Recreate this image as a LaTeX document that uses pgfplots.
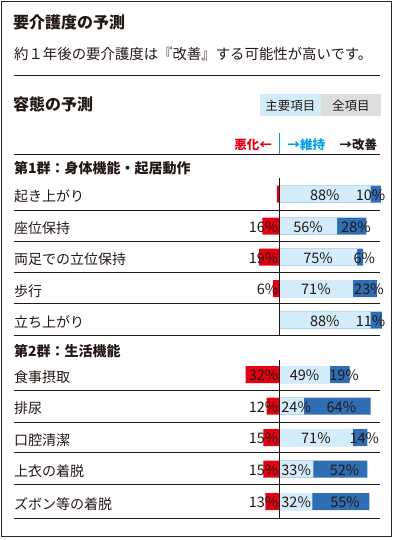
\documentclass[border=0pt]{standalone}
\usepackage{fontspec}
\setmainfont{Noto Sans CJK JP}
\usepackage{pgfplots}
\usepackage{pgfplotstable}
\pgfplotsset{compat=1.18}
\definecolor{worsec}{HTML}{E60012}
\definecolor{keepc}{HTML}{D3ECFA}
\definecolor{improvec}{HTML}{2F6DB5}
\definecolor{txt}{HTML}{231815}
\definecolor{cyanhdr}{HTML}{00A0E9}
\definecolor{btngray}{HTML}{DCDDDD}
\pgfplotstableread{
y     worse keep improve
194   2  88 10
226   16 56 28
257   19 75 6
288.5 6  71 23
320   0  88 11
374.5 32 49 19
406   12 24 64
437.5 15 71 14
469   15 33 52
501.5 13 32 55
}\data
\newcommand\fs[1]{\fontsize{#1bp}{#1bp}\selectfont}
\begin{document}
\begin{tikzpicture}[x=1bp,y=-1bp]
\useasboundingbox (0,0) rectangle (394,540);
\begin{axis}[
  at={(0,0)}, anchor=north west,
  scale only axis, width=394bp, height=540bp,
  xmin=-268.27, xmax=110.58, ymin=0, ymax=540, y dir=reverse,
  axis line style={draw=none}, tick style={draw=none},
  xtick=\empty,
  /pgf/number format/assume math mode=true,
  ytick={194,226,257,288.5,320,374.5,406,437.5,469,501.5},
  yticklabels={起き上がり,座位保持,両足での立位保持,歩行,立ち上がり,食事摂取,排尿,口腔清潔,上衣の着脱,ズボン等の着脱},
  yticklabel style={anchor=west, inner sep=0pt, xshift=14bp, yshift=-2.5bp, font=\fs{14}, text=txt},
  clip=false,
]
\addplot[xbar, bar width=17, bar shift=0pt, fill=worsec, draw=none] table[x expr=-\thisrow{worse}, y=y]{\data};
\addplot[xbar, bar width=17, bar shift=0pt, fill=improvec, draw=none] table[x expr=\thisrow{keep}+\thisrow{improve}, y=y]{\data};
\addplot[xbar, bar width=17, bar shift=0pt, fill=keepc, draw=none] table[x=keep, y=y]{\data};
% labels
\addplot[draw=none, mark=none, point meta=explicit,
  nodes near coords={\pgfmathprintnumber{\pgfplotspointmeta}\%},
  every node near coord/.append style={anchor=center, inner sep=0pt, font=\fs{14.5}, text=txt, yshift=-1bp}]
  table[x expr={max(\thisrow{keep}/2,16.5)}, y=y, meta=keep]{\data};
\addplot[draw=none, mark=none, point meta=explicit,
  nodes near coords={\pgfmathprintnumber{\pgfplotspointmeta}\%},
  every node near coord/.append style={anchor=center, inner sep=0pt, font=\fs{14.5}, text=txt, yshift=-1bp}]
  table[x expr={min(\thisrow{keep}+\thisrow{improve}/2+4,88)}, y=y, meta=improve]{\data};
\addplot[draw=none, mark=none, point meta=explicit,
  restrict expr to domain={\thisrow{worse}}{5:200},
  nodes near coords={\pgfmathprintnumber{\pgfplotspointmeta}\%},
  every node near coord/.append style={anchor=east, inner sep=0pt, font=\fs{14.5}, text=txt, yshift=-1bp, xshift=-0.5bp}]
  table[x expr=0, y=y, meta=worse]{\data};
\end{axis}
% frame and texts
\draw[line width=1bp, draw=black!85] (1.5,1.5) rectangle (391.5,536.5);
\node[anchor=west, inner sep=0pt, font=\fs{16}\bfseries, text=txt] at (13,22.5) {要介護度の予測};
\node[anchor=west, inner sep=0pt, font=\fs{14.4}, text=txt] at (14,53.7) {約１年後の要介護度は『改善』する可能性が高いです。};
\draw[line width=1bp, txt] (14,76) -- (380,76);
\node[anchor=west, inner sep=0pt, font=\fs{16}\bfseries, text=txt] at (13,104) {容態の予測};
\fill[keepc] (260,94.3) rectangle (320.7,116);
\fill[btngray] (320.7,94.3) rectangle (381,116);
\node[inner sep=0pt, font=\fs{12.5}, text=txt] at (290.3,105.5) {主要項目};
\node[inner sep=0pt, font=\fs{12.5}, text=txt] at (350.8,105.5) {全項目};
\node[anchor=east, inner sep=0pt, font=\fs{12.5}\bfseries, text=worsec] at (272,145) {悪化←};
\draw[cyanhdr, line width=1bp] (279,133) -- (279,154);
\node[anchor=west, inner sep=0pt, font=\fs{12.5}\bfseries, text=cyanhdr] at (287.5,145) {→維持};
\node[anchor=west, inner sep=0pt, font=\fs{12.5}\bfseries, text=txt] at (339.5,145) {→改善};
\draw[line width=1bp, txt] (14,154.3) -- (380,154.3);
\node[anchor=west, inner sep=0pt, font=\fs{14}\bfseries, text=txt] at (14,168.3) {第1群：身体機能・起居動作};
\node[anchor=west, inner sep=0pt, font=\fs{14}\bfseries, text=txt] at (14,350.8) {第2群：生活機能};
\foreach \r in {210,241,272.3,303.3,335,390,422.3,452.3,484.3,518.3}
  \draw[line width=1bp, txt] (14,\r) -- (380,\r);
\draw[line width=1bp, txt] (279,178) -- (279,335);
\draw[line width=1bp, txt] (279,360) -- (279,518.3);
\end{tikzpicture}
\end{document}
